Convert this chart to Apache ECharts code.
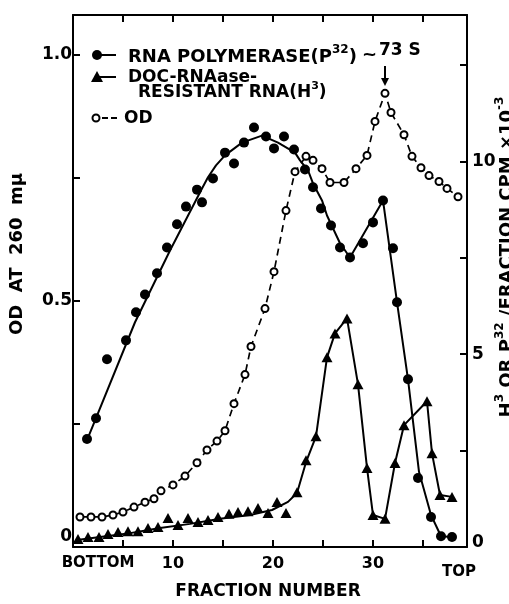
<!DOCTYPE html>
<html>
<head>
<meta charset="utf-8">
<script src="https://cdn.jsdelivr.net/npm/echarts@6/dist/echarts.min.js"></script>
<style>
html,body{margin:0;padding:0;background:#fff;}
#c{width:509px;height:604px;}
</style>
</head>
<body>
<div id="c"></div>
<script>
// ---- data ----
// RNA polymerase (P32), right axis, CPM x 10^-3 : measured points
const polyX = [1.4,2.3,3.4,5.3,6.3,7.2,8.4,9.4,10.4,11.3,12.4,12.9,14.0,15.2,16.1,17.1,18.1,19.3,20.1,21.1,22.1,23.2,24.0,24.8,25.8,26.7,27.7,29.0,30.0,31.0,32.0,32.4,33.5,34.5,35.8,36.8,37.9];
const polyY = [2.80,3.34,4.87,5.36,6.09,6.55,7.10,7.77,8.37,8.83,9.27,8.94,9.56,10.23,9.95,10.49,10.88,10.65,10.34,10.65,10.31,9.79,9.33,8.78,8.34,7.77,7.51,7.88,8.42,8.99,7.75,6.35,4.35,1.79,0.78,0.28,0.26];
// RNA polymerase drawn curve
const polyCurveX = [1.4,2.3,6.2,9.7,12.9,13.5,14.3,15.2,16.9,18.9,20.5,22.2,22.7,23.5,24.0,24.9,25.4,26.7,27.7,31.0,32.4,33.5,34.6,35.8,36.8,37.9];
const polyCurveY = [2.77,3.34,5.83,7.69,9.30,9.59,9.90,10.16,10.49,10.67,10.49,10.23,10.03,9.77,9.43,8.99,8.60,7.88,7.51,8.99,6.35,4.35,1.95,0.83,0.28,0.26];
// DOC-RNAase-resistant RNA (H3), right axis : measured points
const docX = [0.5,1.5,2.6,3.5,4.5,5.5,6.5,7.5,8.5,9.5,10.5,11.5,12.5,13.5,14.5,15.6,16.5,17.5,18.5,19.5,20.4,21.3,22.4,23.3,24.3,25.4,26.2,27.4,28.5,29.4,30.0,31.2,32.2,33.1,35.4,35.9,36.7,37.9];
const docY = [0.21,0.26,0.26,0.34,0.39,0.41,0.41,0.49,0.52,0.75,0.57,0.75,0.65,0.70,0.78,0.86,0.91,0.93,1.01,0.88,1.17,0.88,1.42,2.25,2.87,4.92,5.54,5.93,4.22,2.05,0.83,0.73,2.18,3.16,3.78,2.43,1.35,1.30];
// DOC-RNAase drawn curve
const docCurveX = [0.4,2.7,5.7,8.7,11.7,14.7,17.7,19.9,21.5,22.4,23.3,24.3,25.4,26.2,27.4,28.5,29.4,30.0,31.2,32.2,33.1,35.4,35.9,36.7,37.9];
const docCurveY = [0.18,0.26,0.36,0.49,0.60,0.73,0.83,0.96,1.17,1.40,2.20,2.87,4.92,5.54,5.93,4.22,2.05,0.83,0.73,2.18,3.16,3.78,2.43,1.35,1.30];
// OD at 260 mu, left axis
const odX = [0.7,1.8,2.9,4.0,5.0,6.1,7.2,8.1,8.8,10.0,11.2,12.4,13.4,14.4,15.2,16.1,17.2,17.8,19.2,20.1,21.3,22.2,23.3,24.0,24.9,25.7,27.1,28.3,29.4,30.2,31.2,31.8,33.1,33.9,34.8,35.6,36.6,37.4,38.5];
const odY = [0.061,0.061,0.061,0.065,0.071,0.081,0.091,0.098,0.114,0.126,0.144,0.171,0.197,0.215,0.236,0.291,0.350,0.407,0.484,0.559,0.683,0.762,0.793,0.785,0.768,0.740,0.740,0.768,0.795,0.864,0.921,0.882,0.837,0.793,0.770,0.754,0.742,0.728,0.711];
// tick labels
const xTickLabels = {10:'10', 20:'20', 30:'30'};
const leftTickLabels = {0:'0', 0.5:'0.5', 1:'1.0'};
const rightTickLabels = {0:'0', 5:'5', 10:'10'};

const FONT = 'DejaVu Sans';
const zip = (a,b) => a.map((v,i)=>[v,b[i]]);

const chart = echarts.init(document.getElementById('c'));
const axisCommon = {
  axisLine:{show:true, onZero:false, lineStyle:{color:'#000', width:2}},
  axisTick:{show:true, inside:true, length:7, lineStyle:{color:'#000', width:2}},
  splitLine:{show:false}
};
const ctr = (x,y,text,size,rotation) => ({
  type:'text', x:x, y:y, rotation:rotation||0,
  style:{text:text, fontFamily:FONT, fontWeight:'bold', fontSize:size, fill:'#000',
         align:'center', textAlign:'center', verticalAlign:'middle', textVerticalAlign:'middle'}
});
const txt = (x,y,text,size) => ({
  type:'text', x:x, y:y,
  style:{text:text, fontFamily:FONT, fontWeight:'bold', fontSize:size, fill:'#000',
         align:'left', verticalAlign:'middle', textAlign:'left', textVerticalAlign:'middle'}
});
const richTxt = (x,y,text,size,supSize,align,rotation) => ({
  type:'text', x:x, y:y, rotation:rotation||0,
  style:{text:text, fill:'#000', align:align, textAlign:align, verticalAlign:'middle', textVerticalAlign:'middle',
    fontFamily:FONT, fontWeight:'bold', fontSize:size,
    rich:{
      a:{fontFamily:FONT, fontWeight:'bold', fontSize:size, verticalAlign:'bottom', lineHeight:size+4},
      s:{fontFamily:FONT, fontWeight:'bold', fontSize:supSize, verticalAlign:'top', lineHeight:size+4}
    }}
});

chart.setOption({
  animation:false,
  backgroundColor:'#fff',
  grid:{left:73, right:42, top:15, bottom:57},
  xAxis:[
    Object.assign({type:'value', min:0, max:39.4, interval:5, position:'bottom',
      axisLabel:{show:true, margin:9, color:'#000', fontFamily:FONT, fontWeight:'bold', fontSize:16,
        showMaxLabel:false, formatter:v => xTickLabels[v] || ''}}, axisCommon),
    Object.assign({type:'value', min:0, max:39.4, interval:5, position:'top',
      axisLabel:{show:false}}, axisCommon)
  ],
  yAxis:[
    Object.assign({type:'value', min:0, max:1.08, interval:0.25, position:'left',
      axisLabel:{show:true, margin:1, color:'#000', fontFamily:FONT, fontWeight:'bold', fontSize:17,
        formatter:v => { const t = leftTickLabels[v]; if (t===undefined) return ''; return v===0 ? '{z|'+t+'}' : t; },
        rich:{z:{fontFamily:FONT, fontWeight:'bold', fontSize:17, color:'#000', padding:[0,0,20,0]}}}}, axisCommon),
    Object.assign({type:'value', min:0, max:13.8, interval:2.5, position:'right',
      axisLabel:{show:true, margin:5, color:'#000', fontFamily:FONT, fontWeight:'bold', fontSize:17,
        formatter:v => { const t = rightTickLabels[v]; if (t===undefined) return ''; return v===0 ? '{z|'+t+'}' : t; },
        rich:{z:{fontFamily:FONT, fontWeight:'bold', fontSize:17, color:'#000', padding:[0,0,8,0]}}}}, axisCommon)
  ],
  series:[
    {type:'line', xAxisIndex:0, yAxisIndex:1, data:zip(polyCurveX, polyCurveY), symbol:'none',
      lineStyle:{color:'#000', width:2}, z:2},
    {type:'scatter', xAxisIndex:0, yAxisIndex:1, data:zip(polyX, polyY), symbol:'circle', symbolSize:10,
      itemStyle:{color:'#000', opacity:1}, z:4},
    {type:'line', xAxisIndex:0, yAxisIndex:1, data:zip(docCurveX, docCurveY), symbol:'none',
      lineStyle:{color:'#000', width:2}, z:2},
    {type:'scatter', xAxisIndex:0, yAxisIndex:1, data:zip(docX, docY), symbol:'triangle', symbolSize:[11,10],
      itemStyle:{color:'#000', opacity:1}, z:4},
    {type:'line', xAxisIndex:0, yAxisIndex:0, data:zip(odX, odY), symbol:'circle', symbolSize:7, showSymbol:true,
      itemStyle:{color:'#fff', borderColor:'#000', borderWidth:2, opacity:1},
      lineStyle:{color:'#000', width:1.7, type:[7,5]}, z:5}
  ],
  graphic:[
    // legend
    {type:'line', shape:{x1:97,y1:55,x2:116,y2:55}, style:{stroke:'#000', lineWidth:2}},
    {type:'circle', shape:{cx:97, cy:55, r:5}, style:{fill:'#000'}},
    richTxt(128, 55, '{a|RNA POLYMERASE(P}{s|32}{a|)}', 18, 12, 'left'),
    txt(362, 55, '~', 18),
    txt(379, 51, '73 S', 17),
    {type:'line', shape:{x1:97,y1:77,x2:116,y2:77}, style:{stroke:'#000', lineWidth:2}},
    {type:'polygon', shape:{points:[[91,82],[103,82],[97,71]]}, style:{fill:'#000'}},
    txt(128, 78, 'DOC-RNAase-', 17),
    richTxt(138, 91, '{a|RESISTANT RNA(H}{s|3}{a|)}', 17, 11, 'left'),
    {type:'circle', shape:{cx:96, cy:118, r:3.5}, style:{fill:'#fff', stroke:'#000', lineWidth:2}},
    {type:'line', shape:{x1:102,y1:118,x2:108,y2:118}, style:{stroke:'#000', lineWidth:2}},
    {type:'line', shape:{x1:111,y1:118,x2:117,y2:118}, style:{stroke:'#000', lineWidth:2}},
    txt(124, 119, 'OD', 17),
    // arrow to ~73S peak
    {type:'line', shape:{x1:385,y1:66,x2:385,y2:80}, style:{stroke:'#000', lineWidth:2}},
    {type:'polygon', shape:{points:[[381,78],[389,78],[385,86]]}, style:{fill:'#000'}},
    // axis titles
    ctr(17, 254, 'OD  AT  260  mμ', 18, Math.PI/2),
    richTxt(505, 257, '{a|H}{s|3}{a| OR P}{s|32}{a| /FRACTION CPM ×10}{s|-3}', 18, 12, 'center', Math.PI/2),
    ctr(268, 592, 'FRACTION NUMBER', 17),
    ctr(98, 563, 'BOTTOM', 15),
    ctr(459, 572, 'TOP', 15)
  ]
});
</script>
</body>
</html>
